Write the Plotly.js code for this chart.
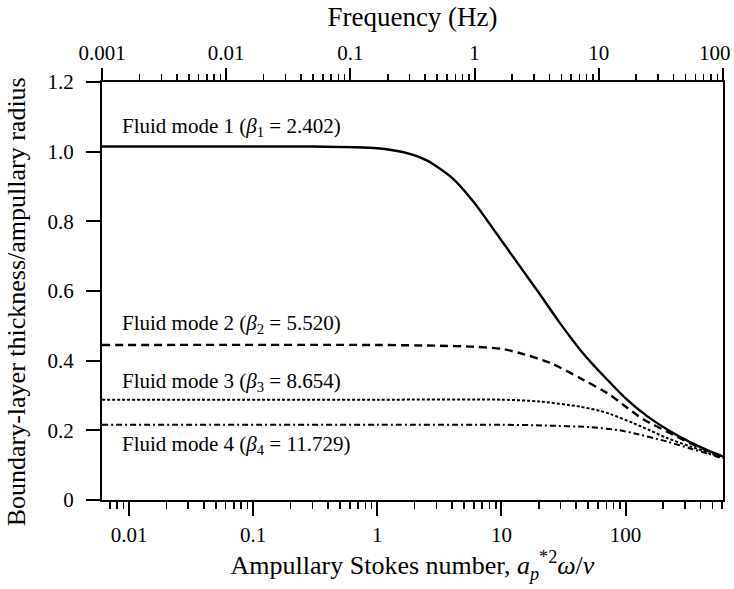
<!DOCTYPE html>
<html>
<head>
<meta charset="utf-8">
<script src="https://cdn.plot.ly/plotly-3.0.1.min.js"></script>
<style>html,body{margin:0;padding:0;background:#fff;}#chart{width:734px;height:589px;}</style>
</head>
<body>
<div id="chart"></div>
<script>
// Ampullary Stokes number (x) and boundary-layer thickness / ampullary radius (y)
const mode1S = [0.00606, 0.3, 1.0, 1.6, 2.5, 4, 6, 9, 13.5, 20, 30, 45, 70, 100, 150, 220, 330, 470, 609];
const mode1Y = [1.015, 1.015, 1.010, 0.999, 0.975, 0.925, 0.855, 0.768, 0.680, 0.595, 0.505, 0.423, 0.348, 0.292, 0.240, 0.201, 0.166, 0.141, 0.125];

const mode2S = [0.00606, 1, 3, 6, 10, 14, 25, 43, 75, 95, 138, 215, 330, 470, 609];
const mode2Y = [0.445, 0.445, 0.443, 0.440, 0.434, 0.422, 0.393, 0.350, 0.302, 0.274, 0.232, 0.197, 0.163, 0.139, 0.123];

const mode3S = [0.00606, 1, 10, 20, 43, 62, 75, 115, 157, 215, 330, 470, 609];
const mode3Y = [0.288, 0.288, 0.288, 0.283, 0.268, 0.256, 0.247, 0.221, 0.200, 0.178, 0.154, 0.135, 0.121];

const mode4S = [0.00606, 1, 10, 22, 52, 90, 115, 215, 330, 470, 609];
const mode4Y = [0.216, 0.216, 0.216, 0.214, 0.209, 0.200, 0.192, 0.168, 0.148, 0.132, 0.119];

const modeLabels = [
  'Fluid mode 1 (<i>β</i><sub>1</sub> = 2.402)',
  'Fluid mode 2 (<i>β</i><sub>2</sub> = 5.520)',
  'Fluid mode 3 (<i>β</i><sub>3</sub> = 8.654)',
  'Fluid mode 4 (<i>β</i><sub>4</sub> = 11.729)'
];
const labelY = [1.07, 0.504, 0.340, 0.158];

const stokesTicks = [0.01, 0.1, 1, 10, 100];
const stokesTickText = ['0.01', '0.1', '1', '10', '100'];
const freqTicks = [0.001, 0.01, 0.1, 1, 10, 100];
const freqTickText = ['0.001', '0.01', '0.1', '1', '10', '100'];
const yTicks = [0, 0.2, 0.4, 0.6, 0.8, 1.0, 1.2];
const yTickText = ['0', '0.2', '0.4', '0.6', '0.8', '1.0', '1.2'];

const xTitle = 'Ampullary Stokes number, <i>a</i><sub><i>p</i></sub><sup>*2</sup><i>ω</i>/<i>ν</i>';
const x2Title = 'Frequency (Hz)';
const yTitle = 'Boundary-layer thickness/ampullary radius';

const FONT = '"Liberation Serif", "Times New Roman", "DejaVu Serif", serif';

const traces = [
  {x: mode1S, y: mode1Y, mode: 'lines', line: {color: '#000', width: 2.4, shape: 'spline', smoothing: 0.7}},
  {x: mode2S, y: mode2Y, mode: 'lines', line: {color: '#000', width: 2.4, dash: '8px,5px', shape: 'spline', smoothing: 0.7}},
  {x: mode3S, y: mode3Y, mode: 'lines', line: {color: '#000', width: 2, dash: '3px,2px', shape: 'spline', smoothing: 0.7}},
  {x: mode4S, y: mode4Y, mode: 'lines', line: {color: '#000', width: 2, dash: '6px,3px,2px,3px', shape: 'spline', smoothing: 0.7}},
  {x: freqTicks, y: freqTicks.map(() => null), xaxis: 'x2', mode: 'lines', hoverinfo: 'skip', showlegend: false}
];

const annotations = modeLabels.map((t, i) => ({
  text: t, xref: 'paper', yref: 'y', x: 0.029, y: labelY[i], xanchor: 'left', yanchor: 'middle',
  showarrow: false, font: {family: FONT, size: 21, color: '#000'}
}));
// last top tick label sits at the very right edge: drawn right-aligned so it stays inside the picture
const lastF = freqTicks.length - 1;
annotations.push({
  text: freqTickText[lastF], xref: 'x2', yref: 'paper', x: Math.log10(freqTicks[lastF]), y: 1,
  xanchor: 'right', yanchor: 'bottom', xshift: 10, yshift: 15, showarrow: false,
  font: {family: FONT, size: 21, color: '#000'}
});
// y-axis title
annotations.push({
  text: yTitle, xref: 'paper', yref: 'paper', x: -0.137, y: 0.475, xanchor: 'center', yanchor: 'middle',
  textangle: -90, showarrow: false, font: {family: FONT, size: 26, color: '#000'}
});

const layout = {
  width: 734, height: 589,
  margin: {l: 102, r: 11, t: 82, b: 89},
  paper_bgcolor: '#fff', plot_bgcolor: '#fff',
  showlegend: false,
  font: {family: FONT, color: '#000'},
  xaxis: {
    type: 'log', range: [Math.log10(0.00606), Math.log10(609)],
    tickvals: stokesTicks, ticktext: stokesTickText,
    ticks: 'outside', ticklen: 14, tickwidth: 2, tickcolor: '#000',
    minor: {ticks: 'outside', ticklen: 7, tickwidth: 1.5, tickcolor: '#000', dtick: 'D1', showgrid: false},
    showline: true, linewidth: 2, linecolor: '#000', mirror: false,
    showgrid: false, zeroline: false,
    tickfont: {family: FONT, size: 21, color: '#000'}, ticklabelstandoff: 1,
    title: {text: xTitle, font: {family: FONT, size: 26, color: '#000'}, standoff: 10}
  },
  xaxis2: {
    type: 'log', range: [-3.0004, 2.0004], overlaying: 'x', side: 'top', anchor: 'y',
    tickvals: freqTicks, ticktext: freqTickText.map((t, i) => i === lastF ? '' : t),
    ticks: 'outside', ticklen: 12, tickwidth: 2, tickcolor: '#000',
    minor: {ticks: 'outside', ticklen: 6, tickwidth: 1.5, tickcolor: '#000', dtick: 'D1', showgrid: false},
    showline: true, linewidth: 2, linecolor: '#000',
    showgrid: false, zeroline: false,
    tickfont: {family: FONT, size: 21, color: '#000'},
    title: {text: x2Title, font: {family: FONT, size: 27, color: '#000'}, standoff: 6}
  },
  yaxis: {
    range: [0, 1.2], tickvals: yTicks, ticktext: yTickText,
    ticks: 'outside', ticklen: 14, tickwidth: 2, tickcolor: '#000',
    showline: true, linewidth: 2, linecolor: '#000', mirror: true,
    showgrid: false, zeroline: false,
    tickfont: {family: FONT, size: 21, color: '#000'}, ticklabelstandoff: 8
  },
  annotations: annotations
};

Plotly.newPlot('chart', traces, layout, {staticPlot: true, displayModeBar: false});
</script>
</body>
</html>
